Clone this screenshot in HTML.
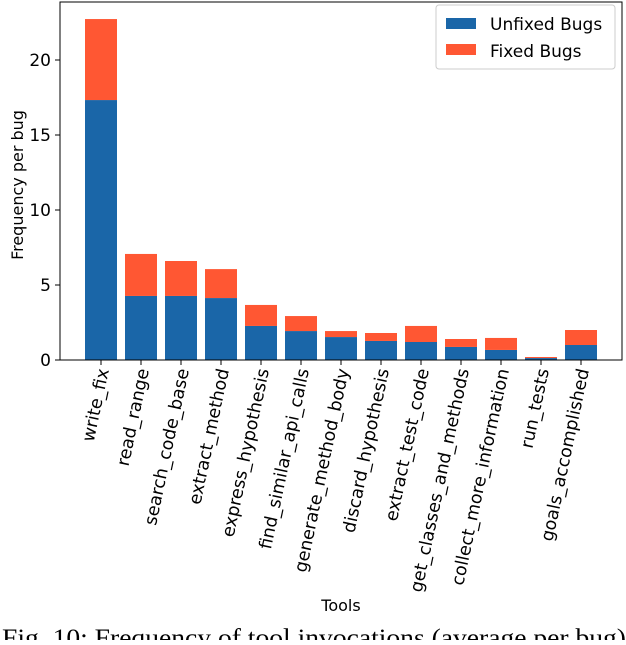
<!DOCTYPE html>
<html><head><meta charset="utf-8"><style>
body{margin:0;background:#fff;width:626px;height:640px;overflow:hidden}
svg text{font-family:"DejaVu Sans","Liberation Sans",sans-serif}
</style></head><body>
<svg id="chart" width="626" height="640" xmlns="http://www.w3.org/2000/svg">
<g id="bars"></g>
<g id="axes"></g>
<g>
<rect x="436" y="5" width="179" height="64" rx="3" fill="#fff" stroke="#ccc"/>
<rect x="446" y="18" width="30" height="11" fill="#1a66a8"/>
<text x="490" y="30" font-size="17">Unfixed Bugs</text>
<rect x="446" y="44" width="30" height="11" fill="#ff5733"/>
<text x="490" y="57" font-size="17">Fixed Bugs</text>
</g>
<text x="23" y="185" font-size="16" text-anchor="middle" transform="rotate(-90 23 185)">Frequency per bug</text>
<text x="341" y="611" font-size="16" text-anchor="middle">Tools</text>
<text x="2" y="646" font-size="25" textLength="624" lengthAdjust="spacingAndGlyphs" style="font-family:'Liberation Serif',serif">Fig. 10: Frequency of tool invocations (average per bug)</text>
</svg>
<script>
const categories=["write_fix","read_range","search_code_base","extract_method","express_hypothesis","find_similar_api_calls","generate_method_body","discard_hypothesis","extract_test_code","get_classes_and_methods","collect_more_information","run_tests","goals_accomplished"];
const unfixed=[17.33,4.27,4.27,4.13,2.27,1.93,1.53,1.27,1.2,0.87,0.67,0.13,1.0];
const fixed=[5.4,2.8,2.33,1.93,1.4,1.0,0.4,0.53,1.07,0.53,0.8,0.07,1.0];
const yTicks=[0,5,10,15,20];
const NS="http://www.w3.org/2000/svg";
const x0=60,x1=622,yBase=360,pxPer=15,step=40,first=101,bw=32;
function xs(i){return first+i*step;}
function ys(v){return yBase-v*pxPer;}
function mk(tag,attrs,parent){const e=document.createElementNS(NS,tag);for(const k in attrs)e.setAttribute(k,attrs[k]);parent.appendChild(e);return e;}
const bars=document.getElementById('bars'),axes=document.getElementById('axes');
categories.forEach((c,i)=>{
  const u=mk('rect',{x:xs(i)-bw/2,y:ys(unfixed[i]),width:bw,height:unfixed[i]*pxPer,fill:'#1a66a8'},bars);
  
  
  const f=mk('rect',{x:xs(i)-bw/2,y:ys(unfixed[i]+fixed[i]),width:bw,height:fixed[i]*pxPer,fill:'#ff5733'},bars);
  
  
  const t=mk('line',{x1:xs(i),x2:xs(i),y1:yBase,y2:yBase+5,stroke:'#000'},axes);
  
  
  const lx=xs(i)+8,ly=yBase+10;
  const l=mk('text',{x:lx,y:ly,'font-size':17.5,'text-anchor':'end',transform:`rotate(-78 ${lx} ${ly})`},axes);
  l.textContent=c;
  
  
});
yTicks.forEach(v=>{
  const t=mk('line',{x1:x0-5,x2:x0,y1:ys(v),y2:ys(v),stroke:'#000'},axes);
  
  
  const l=mk('text',{x:x0-9,y:ys(v)+6,'font-size':17,'text-anchor':'end'},axes);
  l.textContent=v;
  
  
});
const fr=mk('rect',{x:x0,y:2,width:x1-x0,height:yBase-2,fill:'none',stroke:'#000','stroke-width':1},axes);


</script>
</body></html>
